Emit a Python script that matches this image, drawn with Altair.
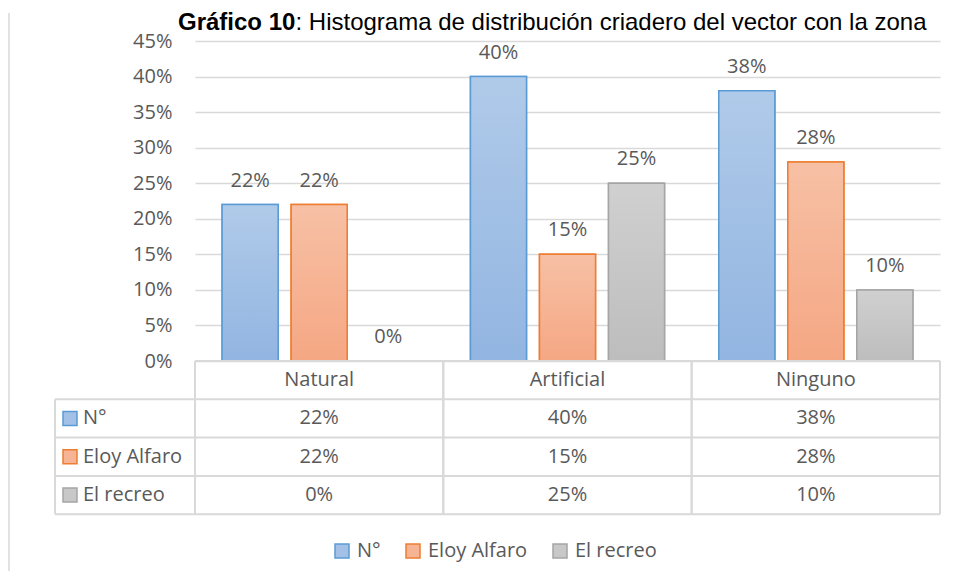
import altair as alt
import pandas as pd

# ---------------- data ----------------
categories = ["Natural", "Artificial", "Ninguno"]
series = ["N°", "Eloy Alfaro", "El recreo"]
n_values = [22, 40, 38]
eloy_values = [22, 15, 28]
recreo_values = [0, 25, 10]
y_ticks = [0, 5, 10, 15, 20, 25, 30, 35, 40, 45]
title_bold = "Gráfico 10"
title_rest = ": Histograma de distribución criadero del vector con la zona"

# ---------------- styles ----------------
fill_top = ["#b0cae9", "#f7c0a5", "#d0d0d0"]
fill_bottom = ["#92b5e1", "#f5a783", "#bdbdbd"]
strokes = ["#5b9bd5", "#ed7d31", "#a5a5a5"]
legend_fill = ["#a3c1e6", "#f6b495", "#c8c8c8"]

FONT = "Open Sans"
TXT = "#595959"
GRID = "#d9d9d9"
W, H = 745, 320

rows = []
for s, vals in zip(series, [n_values, eloy_values, recreo_values]):
    for c, v in zip(categories, vals):
        rows.append({"category": c, "series": s, "value": v})
df = pd.DataFrame(rows)
cat_df = pd.DataFrame({"category": categories})
one = pd.DataFrame({"k": [0]})

x_scale = alt.Scale(domain=categories, paddingInner=0, paddingOuter=0)
x_enc = alt.X("category:N", sort=categories, axis=None, scale=x_scale)
x_off = alt.XOffset("series:N", sort=series,
                    scale=alt.Scale(domain=series, paddingInner=0.188, paddingOuter=0.393))
y_axis = alt.Axis(values=y_ticks, labelExpr="datum.value + '%'", grid=True,
                  gridColor=GRID, gridWidth=1.3, domain=False, ticks=False,
                  labelFont=FONT, labelFontSize=20, labelColor=TXT,
                  labelPadding=23, labelOverlap=False, labelFlush=False,
                  tickCount=10, title=None)
y_enc = alt.Y("value:Q", scale=alt.Scale(domain=[0, 45], nice=False, zero=True),
              axis=y_axis)

legend = alt.Legend(orient="none", legendX=137, legendY=500, direction="horizontal",
                    title=None, symbolType="square", symbolSize=196,
                    symbolStrokeWidth=1.5, labelFont=FONT, labelFontSize=20,
                    labelColor=TXT, labelOffset=5, columnPadding=22)

fill_scale = alt.Scale(domain=series, range=legend_fill)
stroke_scale = alt.Scale(domain=series, range=strokes)

base = alt.Chart(df)

# base bars carry the legend
bars_base = base.transform_filter("datum.value > 0").mark_bar(strokeWidth=1.5).encode(
    x=x_enc, xOffset=x_off, y=y_enc,
    fill=alt.Fill("series:N", scale=fill_scale, legend=legend, sort=series),
    stroke=alt.Stroke("series:N", scale=stroke_scale, legend=legend, sort=series),
)

layers = [bars_base]

# gradient bars per series
for s, top, bot, st in zip(series, fill_top, fill_bottom, strokes):
    grad = alt.LinearGradient(
        gradient="linear",
        stops=[alt.GradientStop(color=top, offset=0), alt.GradientStop(color=bot, offset=1)],
        x1=0, x2=0, y1=0, y2=1,
    )
    layers.append(
        base.transform_filter(alt.datum.series == s)
        .transform_filter("datum.value > 0")
        .mark_bar(fill=grad, stroke=st, strokeWidth=1.5)
        .encode(x=x_enc, xOffset=x_off, y=y_enc)
    )

# bar labels
layers.append(
    base.transform_calculate(label="datum.value + '%'")
    .mark_text(dy=-18, baseline="alphabetic", font=FONT, fontSize=20, color=TXT)
    .encode(x=x_enc, xOffset=x_off, y=y_enc, text="label:N")
)

# ---------------- data table ----------------
row_top = 320
row_h = 38.3
hdr_center = row_top + row_h / 2
row_centers = [row_top + row_h * (i + 1) + row_h / 2 for i in range(3)]
table_bottom = row_top + row_h * 4

# header row text
layers.append(
    alt.Chart(cat_df).mark_text(baseline="middle", font=FONT, fontSize=20, color=TXT)
    .encode(x=x_enc, y=alt.value(hdr_center), text="category:N")
)

for s, yc in zip(series, row_centers):
    sub = base.transform_filter(alt.datum.series == s)
    layers.append(
        sub.transform_calculate(label="datum.value + '%'")
        .mark_text(baseline="middle", font=FONT, fontSize=20, color=TXT)
        .encode(x=x_enc, y=alt.value(yc), text="label:N")
    )
    # row header: square + name
    layers.append(
        sub.transform_filter(alt.datum.category == categories[0])
        .mark_square(size=196, filled=True, strokeWidth=1.5, opacity=1)
        .encode(x=alt.value(-125), y=alt.value(yc),
                fill=alt.Fill("series:N", scale=fill_scale, legend=legend, sort=series),
                stroke=alt.Stroke("series:N", scale=stroke_scale, legend=legend, sort=series))
    )
    layers.append(
        sub.transform_filter(alt.datum.category == categories[0])
        .mark_text(align="left", baseline="middle", font=FONT, fontSize=20, color=TXT)
        .encode(x=alt.value(-112), y=alt.value(yc), text="series:N")
    )

# table horizontal lines
layers.append(
    alt.Chart(one).mark_rule(color=GRID, strokeWidth=2)
    .encode(x=alt.value(0), x2=alt.value(W), y=alt.value(row_top))
)
for i in range(1, 5):
    layers.append(
        alt.Chart(one).mark_rule(color=GRID, strokeWidth=2)
        .encode(x=alt.value(-140), x2=alt.value(W), y=alt.value(row_top + row_h * i))
    )
# table vertical lines
for bp in (0, 1):
    layers.append(
        alt.Chart(cat_df).mark_rule(color=GRID, strokeWidth=2)
        .encode(x=alt.X("category:N", sort=categories, axis=None, scale=x_scale, bandPosition=bp),
                y=alt.value(row_top), y2=alt.value(table_bottom))
    )
layers.append(
    alt.Chart(one).mark_rule(color=GRID, strokeWidth=2)
    .encode(x=alt.value(-140), y=alt.value(row_top + row_h), y2=alt.value(table_bottom))
)

# outer chart box (left edge)
layers.append(
    alt.Chart(one).mark_rule(color=GRID, strokeWidth=1.5)
    .encode(x=alt.value(-186), y=alt.value(-28), y2=alt.value(H + 210))
)

# title (bold part + rest)
layers.append(
    alt.Chart(one).mark_text(align="left", baseline="alphabetic", font="Liberation Sans",
                             fontSize=24, fontWeight="bold", color="#000000")
    .encode(x=alt.value(-17), y=alt.value(-11), text=alt.value(title_bold))
)
layers.append(
    alt.Chart(one).mark_text(align="left", baseline="alphabetic", font="Liberation Sans",
                             fontSize=24, color="#000000")
    .encode(x=alt.value(100.5), y=alt.value(-11), text=alt.value(title_rest))
)

chart = alt.layer(*layers).properties(
    width=W, height=H,
    padding={"left": 187, "top": 33, "right": 4, "bottom": 210},
    autosize=alt.AutoSizeParams(type="none"),
).configure_view(stroke=None)

chart.save("out.html", embed_options={"renderer": "svg", "actions": False})
